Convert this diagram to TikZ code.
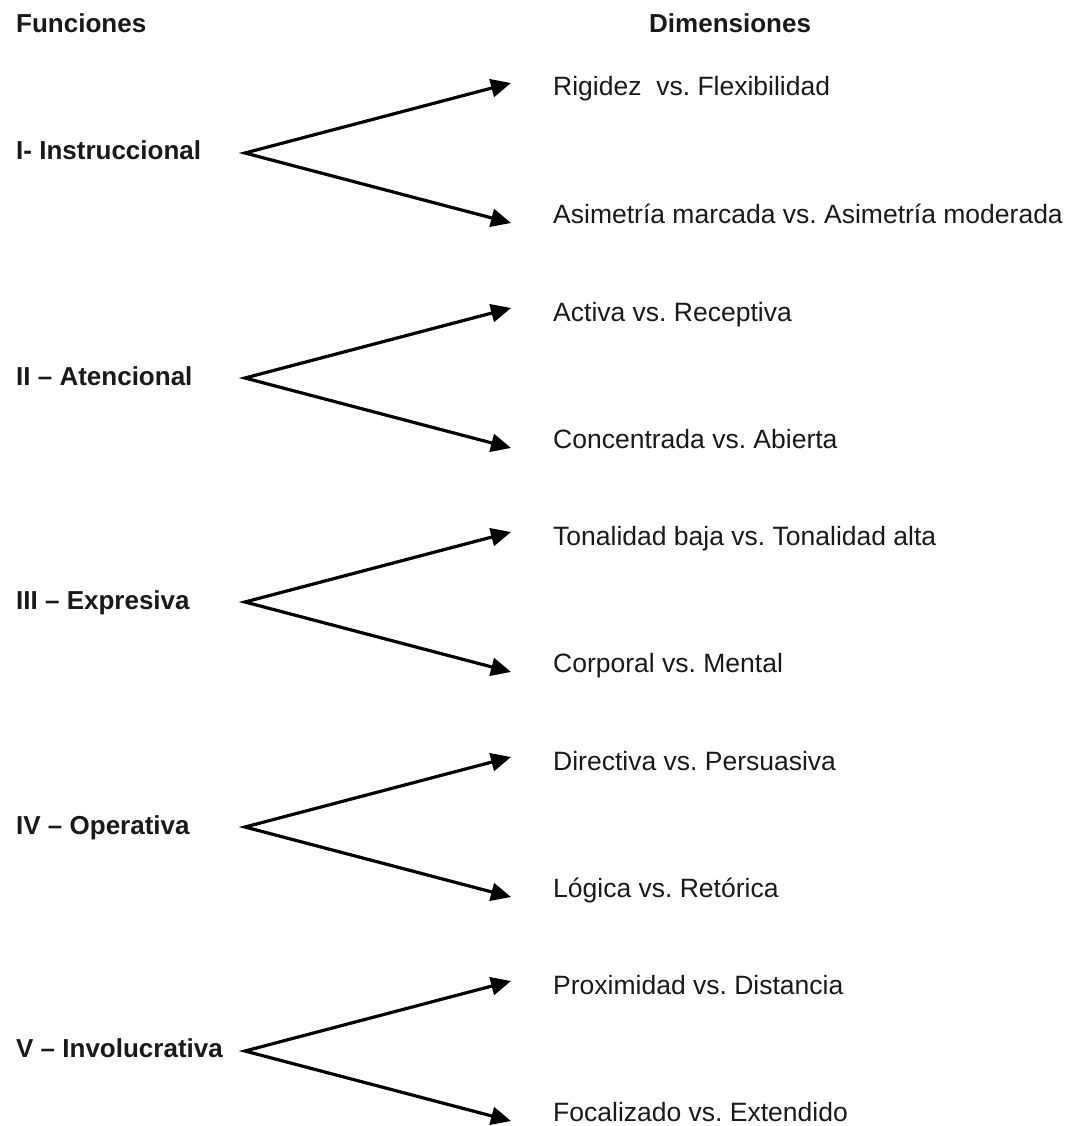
\documentclass[tikz,border=0pt]{standalone}
\usepackage{fontspec}
\setmainfont{Liberation Sans}
\usepackage{tikz}
\usetikzlibrary{arrows.meta}
\frenchspacing

\begin{document}
\begin{tikzpicture}[
  x=1pt, y=-1pt,
  every node/.style = {inner sep=0pt, anchor=base west, text=black!90,
                       font=\fontsize{26.5}{31}\selectfont},
  fun/.style  = {font=\fontsize{26}{31}\selectfont\bfseries},
  dim/.style  = {},
  fork/.style = {{Triangle[length=20pt, width=18pt]}-{Triangle[length=20pt, width=18pt]},
                 line width=3.2pt, line join=miter}
]
\useasboundingbox (0,0) rectangle (1067,1126);

% Headers
\node[fun] (hfun) at (16,33)  {Funciones};
\node[fun] (hdim) at (649,33) {Dimensiones};

% I
\node[fun] (f1) at (16,160) {I- Instruccional};
\coordinate (v1) at (245,153);
\coordinate (u1) at (511,83);
\coordinate (l1) at (511,223);
\node[dim] (d1a) at (553,96)  {Rigidez~ vs. Flexibilidad};
\node[dim] (d1b) at (553,223) {Asimetría marcada vs. Asimetría moderada};
\draw[fork] (u1) -- (v1) -- (l1);

% II
\node[fun] (f2) at (16,385) {II -- Atencional};
\coordinate (v2) at (245,378);
\coordinate (u2) at (511,308);
\coordinate (l2) at (511,448);
\node[dim] (d2a) at (553,321) {Activa vs. Receptiva};
\node[dim] (d2b) at (553,448) {Concentrada vs. Abierta};
\draw[fork] (u2) -- (v2) -- (l2);

% III
\node[fun] (f3) at (16,609) {III -- Expresiva};
\coordinate (v3) at (245,602);
\coordinate (u3) at (511,532);
\coordinate (l3) at (511,672);
\node[dim] (d3a) at (553,545) {Tonalidad baja vs. Tonalidad alta};
\node[dim] (d3b) at (553,672) {Corporal vs. Mental};
\draw[fork] (u3) -- (v3) -- (l3);

% IV
\node[fun] (f4) at (16,834) {IV -- Operativa};
\coordinate (v4) at (245,827);
\coordinate (u4) at (511,757);
\coordinate (l4) at (511,897);
\node[dim] (d4a) at (553,770) {Directiva vs. Persuasiva};
\node[dim] (d4b) at (553,897) {Lógica vs. Retórica};
\draw[fork] (u4) -- (v4) -- (l4);

% V
\node[fun] (f5) at (16,1057) {V -- Involucrativa};
\coordinate (v5) at (245,1051);
\coordinate (u5) at (511,981);
\coordinate (l5) at (511,1121);
\node[dim] (d5a) at (553,994)  {Proximidad vs. Distancia};
\node[dim] (d5b) at (553,1121) {Focalizado vs. Extendido};
\draw[fork] (u5) -- (v5) -- (l5);

\end{tikzpicture}
\end{document}
